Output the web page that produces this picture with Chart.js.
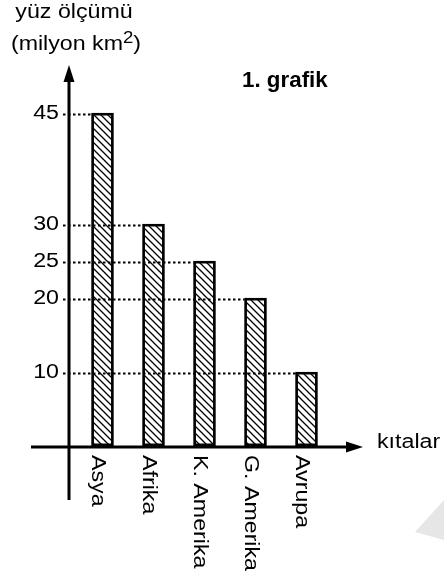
<!DOCTYPE html>
<html lang="tr">
<head>
<meta charset="utf-8">
<title>1. grafik</title>
<script src="https://cdn.jsdelivr.net/npm/chart.js@4.4.1/dist/chart.umd.min.js"></script>
<style>
    html, body { margin: 0; padding: 0; background: #fff; }
    #chart { display: block; }
</style>
</head>
<body>
<canvas id="chart" width="444" height="581"></canvas>
<script>
// kıtalar ve yüz ölçümleri (milyon km²)
const continents = ['Asya', 'Afrika', 'K. Amerika', 'G. Amerika', 'Avrupa'];
const areas = [45, 30, 25, 20, 10];
const yTicks = [10, 20, 25, 30, 45];

const FONT = '"Liberation Sans", Arial, sans-serif';
const STRETCH = 1.16;

function makeHatch() {
    const size = 7;
    const c = document.createElement('canvas');
    c.width = size;
    c.height = size;
    const g = c.getContext('2d');
    g.fillStyle = '#fff';
    g.fillRect(0, 0, size, size);
    g.strokeStyle = '#000';
    g.lineWidth = 1.3;
    g.beginPath();
    g.moveTo(-1, -1); g.lineTo(size + 1, size + 1);
    g.moveTo(-1, size - 1); g.lineTo(1, size + 1);
    g.moveTo(size - 1, -1); g.lineTo(size + 1, 1);
    g.stroke();
    return g.createPattern(c, 'repeat');
}

function drawText(ctx, str, x, y, opts) {
    ctx.save();
    ctx.translate(x, y);
    if (opts.rotate) ctx.rotate(opts.rotate);
    ctx.scale(opts.sx || 1, 1);
    ctx.font = opts.font;
    ctx.fillStyle = '#000';
    ctx.textAlign = opts.align || 'left';
    ctx.textBaseline = opts.baseline || 'alphabetic';
    ctx.fillText(str, 0, 0);
    ctx.restore();
}

function textWidth(ctx, str, font, sx) {
    ctx.save();
    ctx.font = font;
    const w = ctx.measureText(str).width * sx;
    ctx.restore();
    return w;
}

const axesPlugin = {
    id: 'axesPlugin',
    beforeDraw(chart) {
        const ctx = chart.ctx;
        // silik köşe işareti
        ctx.save();
        ctx.fillStyle = '#e6e6e6';
        ctx.beginPath();
        ctx.moveTo(415, 532);
        ctx.lineTo(444, 500);
        ctx.lineTo(444, 540);
        ctx.closePath();
        ctx.fill();
        ctx.restore();
    },
    afterDatasetsDraw(chart) {
        const ctx = chart.ctx;
        const area = chart.chartArea;
        const x = chart.scales.x;
        const y = chart.scales.y;
        const axisX = area.left - 8;
        const axisY = y.getPixelForValue(0) + 1;
        const meta = chart.getDatasetMeta(0);
        const regular = '20px ' + FONT;

        // kesikli çizgiler
        ctx.save();
        ctx.strokeStyle = '#000';
        ctx.lineWidth = 2;
        ctx.setLineDash([2.5, 2.5]);
        meta.data.forEach(bar => {
            const py = bar.y + 1.5;
            ctx.beginPath();
            ctx.moveTo(axisX - 6, py);
            ctx.lineTo(bar.x - bar.width / 2, py);
            ctx.stroke();
        });
        ctx.restore();

        // eksenler
        ctx.save();
        ctx.strokeStyle = '#000';
        ctx.fillStyle = '#000';
        ctx.lineWidth = 3;
        ctx.beginPath();
        ctx.moveTo(31, axisY);
        ctx.lineTo(350, axisY);
        ctx.moveTo(axisX, 500);
        ctx.lineTo(axisX, 78);
        ctx.stroke();
        ctx.beginPath();
        ctx.moveTo(363, axisY);
        ctx.lineTo(346, axisY - 5.5);
        ctx.lineTo(346, axisY + 5.5);
        ctx.closePath();
        ctx.fill();
        ctx.beginPath();
        ctx.moveTo(axisX, 65);
        ctx.lineTo(axisX - 5.5, 82);
        ctx.lineTo(axisX + 5.5, 82);
        ctx.closePath();
        ctx.fill();
        ctx.restore();

        // y değerleri
        yTicks.forEach(v => {
            drawText(ctx, String(v), 59, y.getPixelForValue(v), {
                font: regular, sx: STRETCH, align: 'right', baseline: 'middle'
            });
        });

        // kıta adları
        continents.forEach((name, i) => {
            drawText(ctx, name, x.getPixelForValue(i) - 11, axisY + 8, {
                font: regular, sx: STRETCH, rotate: Math.PI / 2
            });
        });

        drawText(ctx, 'kıtalar', 377, axisY + 1, { font: regular, sx: STRETCH });

        // başlıklar
        drawText(ctx, 'yüz ölçümü', 74, 18, { font: regular, sx: STRETCH, align: 'center' });
        const supFont = '16px ' + FONT;
        const w1 = textWidth(ctx, '(milyon km', regular, STRETCH);
        const w2 = textWidth(ctx, '2', supFont, STRETCH);
        const w3 = textWidth(ctx, ')', regular, STRETCH);
        let left = 76 - (w1 + w2 + w3) / 2;
        drawText(ctx, '(milyon km', left, 50, { font: regular, sx: STRETCH });
        drawText(ctx, '2', left + w1, 43, { font: supFont, sx: STRETCH });
        drawText(ctx, ')', left + w1 + w2, 50, { font: regular, sx: STRETCH });

        drawText(ctx, '1. grafik', 242, 87, { font: 'bold 21.5px ' + FONT, sx: 1.04 });
    }
};

new Chart(document.getElementById('chart'), {
    type: 'bar',
    data: {
        labels: continents,
        datasets: [{
            data: areas,
            backgroundColor: makeHatch(),
            borderColor: '#000',
            borderWidth: 2.8,
            borderSkipped: false,
            barThickness: 22
        }]
    },
    options: {
        responsive: false,
        animation: false,
        devicePixelRatio: 1,
        layout: {
            padding: { left: 77, right: 112, top: 76, bottom: 135 }
        },
        plugins: {
            legend: { display: false },
            tooltip: { enabled: false }
        },
        scales: {
            x: { display: false },
            y: { display: false, min: 0, max: 50 }
        }
    },
    plugins: [axesPlugin]
});
</script>
</body>
</html>
